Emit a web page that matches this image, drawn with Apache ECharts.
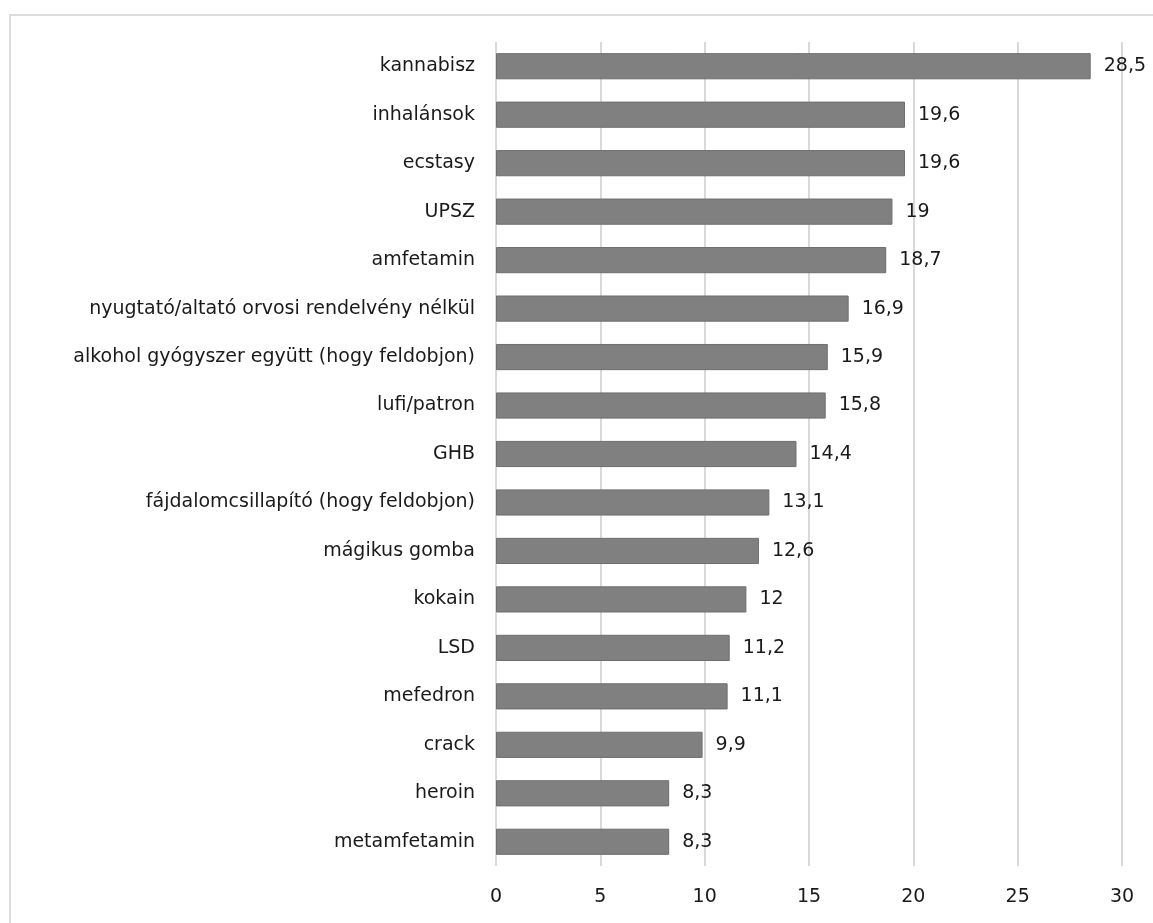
<!DOCTYPE html>
<html>
<head>
<meta charset="utf-8">
<script src="https://cdn.jsdelivr.net/npm/echarts@6/dist/echarts.min.js"></script>
<style>
  html, body { margin: 0; padding: 0; background: #ffffff; }
  #chart { width: 1153px; height: 923px; }
</style>
</head>
<body>
<div id="chart"></div>
<script>
// Substances, listed top to bottom
const categories = [
  'kannabisz', 'inhalánsok', 'ecstasy', 'UPSZ', 'amfetamin',
  'nyugtató/altató orvosi rendelvény nélkül',
  'alkohol gyógyszer együtt (hogy feldobjon)',
  'lufi/patron', 'GHB', 'fájdalomcsillapító (hogy feldobjon)',
  'mágikus gomba', 'kokain', 'LSD', 'mefedron', 'crack', 'heroin', 'metamfetamin'
];
// Percentages
const values = [28.5, 19.6, 19.6, 19, 18.7, 16.9, 15.9, 15.8, 14.4, 13.1, 12.6, 12, 11.2, 11.1, 9.9, 8.3, 8.3];
// Axis ticks
const xTicks = [0, 5, 10, 15, 20, 25, 30];

const FONT = 'DejaVu Sans';
const chart = echarts.init(document.getElementById('chart'));

chart.setOption({
  backgroundColor: '#ffffff',
  animation: false,
  graphic: [{
    type: 'rect',
    shape: { x: 10, y: 15, width: 1160, height: 930 },
    style: { fill: 'none', stroke: '#dcdcdc', lineWidth: 2 },
    silent: true
  }],
  grid: { left: 496, right: 31, top: 42, bottom: 57, containLabel: false },
  xAxis: {
    type: 'value',
    min: xTicks[0],
    max: xTicks[xTicks.length - 1],
    interval: xTicks[1] - xTicks[0],
    axisLine: { show: false },
    axisTick: { show: false },
    splitLine: { show: true, lineStyle: { color: '#d9d9d9', width: 2 } },
    axisLabel: { color: '#1a1a1a', fontFamily: FONT, fontSize: 19, margin: 22 }
  },
  yAxis: {
    type: 'category',
    data: categories,
    inverse: true,
    axisLine: { show: false },
    axisTick: { show: false },
    axisLabel: { color: '#1a1a1a', fontFamily: FONT, fontSize: 19, margin: 21 }
  },
  series: [{
    type: 'bar',
    data: values,
    barCategoryGap: '46%',
    itemStyle: { color: '#808080', borderColor: '#6e6e6e', borderWidth: 1 },
    label: {
      show: true,
      position: 'right',
      distance: 13,
      color: '#1a1a1a',
      fontFamily: FONT,
      fontSize: 19,
      formatter: p => String(p.value).replace('.', ',')
    }
  }]
});
</script>
</body>
</html>
